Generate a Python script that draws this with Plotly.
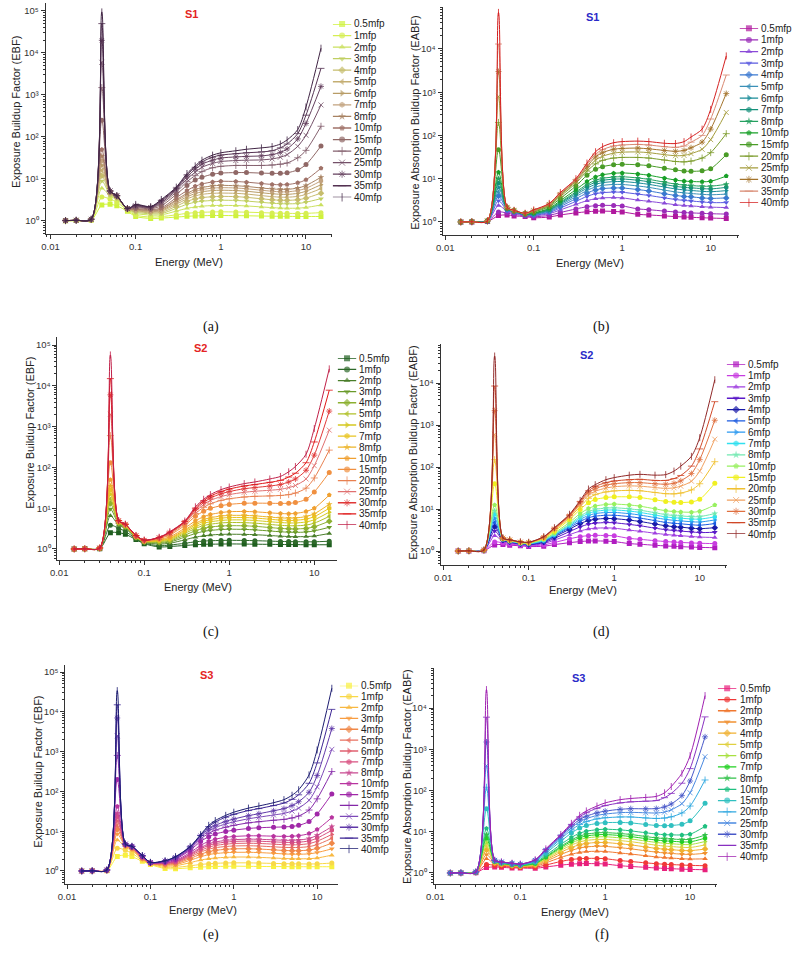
import plotly.graph_objects as go

W, H = 792, 961
FONT = "Liberation Sans, Arial, sans-serif"

energy = [0.015, 0.02, 0.03, 0.04, 0.05, 0.06, 0.08, 0.1, 0.15, 0.2, 0.3, 0.4, 0.5,
          0.6, 0.8, 1, 1.5, 2, 3, 4, 5, 6, 8, 10, 15]
mfp = ["0.5mfp", "1mfp", "2mfp", "3mfp", "4mfp", "5mfp", "6mfp", "7mfp", "8mfp",
       "10mfp", "15mfp", "20mfp", "25mfp", "30mfp", "35mfp", "40mfp"]
x_tickvals = [0.01, 0.1, 1, 10]
x_ticktext = ["0.01", "0.1", "1", "10"]
y_tickvals = [1, 10, 100, 1000, 10000, 100000]
y_ticktext = ["10\u2070", "10\u00b9", "10\u00b2", "10\u00b3", "10\u2074", "10\u2075"]

# (a) EBF, S1
EBF_S1 = [
    [1.01,1.02,1.04,2.4,2.5,2.3,1.7,1.28,1.15,1.17,1.24,1.29,1.32,1.33,1.35,1.35,1.34,1.33,1.31,1.30,1.29,1.29,1.28,1.28,1.28],
    [1.01,1.02,1.05,3.7,3.3,2.8,1.8,1.38,1.24,1.27,1.40,1.52,1.58,1.61,1.64,1.65,1.64,1.62,1.58,1.55,1.53,1.52,1.51,1.52,1.58],
    [1.02,1.03,1.06,6.0,3.9,3.3,1.85,1.52,1.38,1.40,1.72,2.0,2.15,2.25,2.33,2.35,2.33,2.28,2.16,2.08,2.03,2.01,2.02,2.1,2.4],
    [1.02,1.03,1.07,9.0,4.2,3.5,1.88,1.62,1.48,1.5,2.0,2.5,2.8,2.95,3.08,3.12,3.08,2.98,2.78,2.65,2.58,2.56,2.6,2.8,3.4],
    [1.02,1.03,1.07,12,4.4,3.6,1.9,1.7,1.56,1.6,2.25,2.95,3.35,3.6,3.78,3.85,3.8,3.65,3.38,3.2,3.12,3.1,3.2,3.5,4.6],
    [1.02,1.03,1.08,16,4.6,3.7,1.92,1.76,1.62,1.7,2.5,3.35,3.95,4.3,4.55,4.62,4.55,4.38,4.02,3.8,3.7,3.68,3.85,4.3,5.9],
    [1.02,1.04,1.08,21,4.7,3.8,1.93,1.82,1.68,1.78,2.75,3.75,4.5,4.95,5.3,5.4,5.3,5.1,4.7,4.45,4.32,4.3,4.55,5.1,7.3],
    [1.02,1.04,1.08,27,4.8,3.85,1.94,1.86,1.73,1.86,3.0,4.15,5.05,5.6,6.05,6.2,6.1,5.85,5.4,5.1,4.95,4.95,5.3,6.0,9.0],
    [1.02,1.04,1.09,35,4.9,3.9,1.95,1.9,1.78,1.93,3.2,4.55,5.6,6.25,6.85,7.05,6.9,6.65,6.1,5.8,5.65,5.65,6.1,7.0,11],
    [1.02,1.04,1.09,50,5.0,3.95,1.96,1.97,1.86,2.05,3.6,5.3,6.7,7.6,8.5,8.8,8.7,8.4,7.8,7.4,7.3,7.35,8.1,9.6,18],
    [1.02,1.04,1.1,250,5.1,4.0,1.97,2.08,1.96,2.3,4.3,7.0,9.4,11,13,13.8,14.2,14.2,13.8,13.6,13.6,14,16.5,22,61],
    [1.02,1.04,1.1,1500,5.15,4.0,1.98,2.17,2.03,2.55,4.9,8.6,12,15,18.5,20,21,21,21,21.5,22.5,24,32,48,180],
    [1.02,1.04,1.1,6000,5.2,4.0,1.98,2.25,2.08,2.75,5.4,10,14.5,19,23.5,26,27.5,28,28.5,30,33,38,60,110,580],
    [1.02,1.04,1.1,20000,5.2,4.0,1.98,2.32,2.13,2.95,5.8,11.3,17,22.5,28,31.5,33.5,34.5,35.5,38,43,52,90,210,1600],
    [1.02,1.04,1.1,50000,5.2,4.0,1.98,2.4,2.17,3.1,6.1,12.5,19,25.5,33,37,40,42,44,47,55,68,120,330,4300],
    [1.02,1.04,1.1,95000,5.2,4.0,1.98,2.48,2.2,3.25,6.4,13.5,20.5,28,37,42,47,51,55,59,68,85,150,520,13000],
]

# (b) EABF, S1
EABF_S1 = [
    [1.0,1.0,1.02,1.4,1.45,1.38,1.33,1.25,1.3,1.45,1.62,1.72,1.77,1.78,1.75,1.7,1.5,1.45,1.38,1.33,1.3,1.28,1.25,1.23,1.2],
    [1.0,1.01,1.03,1.7,1.6,1.5,1.38,1.32,1.42,1.65,2.0,2.25,2.38,2.42,2.4,2.35,2.0,1.92,1.78,1.7,1.65,1.62,1.58,1.55,1.52],
    [1.0,1.01,1.03,2.4,1.75,1.6,1.42,1.38,1.55,1.9,2.55,3.1,3.45,3.6,3.65,3.6,3.2,3.0,2.7,2.5,2.4,2.35,2.25,2.2,2.15],
    [1.0,1.01,1.04,3.1,1.85,1.66,1.45,1.42,1.65,2.1,3.0,3.9,4.5,4.75,4.9,4.85,4.4,4.1,3.6,3.3,3.15,3.05,2.9,2.8,2.8],
    [1.0,1.01,1.04,4.0,1.92,1.7,1.47,1.46,1.73,2.28,3.45,4.65,5.5,5.9,6.1,6.1,5.6,5.2,4.5,4.1,3.9,3.8,3.6,3.5,3.6],
    [1.0,1.01,1.04,5.0,1.97,1.73,1.49,1.5,1.8,2.45,3.85,5.35,6.45,7.0,7.35,7.35,6.8,6.3,5.45,4.95,4.7,4.55,4.35,4.25,4.4],
    [1.0,1.01,1.05,6.3,2.0,1.75,1.5,1.53,1.87,2.6,4.25,6.05,7.4,8.1,8.55,8.6,8.0,7.4,6.4,5.8,5.5,5.35,5.1,5.0,5.3],
    [1.0,1.01,1.05,8.0,2.03,1.77,1.51,1.56,1.93,2.75,4.6,6.7,8.3,9.15,9.75,9.85,9.2,8.5,7.35,6.65,6.3,6.15,5.9,5.8,6.3],
    [1.0,1.01,1.05,10,2.05,1.78,1.52,1.58,1.98,2.88,4.95,7.35,9.2,10.2,10.9,11.1,10.4,9.65,8.3,7.5,7.1,6.95,6.7,6.7,7.4],
    [1.0,1.01,1.05,14,2.08,1.8,1.53,1.62,2.07,3.1,5.6,8.6,11,12.3,13.3,13.6,12.9,12,10.3,9.3,8.8,8.6,8.5,8.7,11.5],
    [1.0,1.01,1.06,47,2.12,1.82,1.55,1.7,2.25,3.5,6.8,12,16.5,19,21,21.5,21,20,17.5,16,15,14.8,15.2,17,36],
    [1.0,1.01,1.06,200,2.15,1.83,1.56,1.76,2.38,3.9,7.9,15,22,26.5,30,31,31,30,27,25,24.5,25.5,30,40,110],
    [1.0,1.01,1.06,800,2.17,1.84,1.57,1.8,2.48,4.2,8.6,17,27,33,39,41,41.5,40,36,34,34.5,38,48,80,340],
    [1.0,1.01,1.06,3000,2.18,1.85,1.58,1.84,2.56,4.4,9.1,19,32,40,48,50,51,49,45,43,45,52,70,140,930],
    [1.0,1.01,1.06,13000,2.19,1.85,1.58,1.87,2.62,4.6,9.6,21,37,47,57,60,62,60,55,53,57,70,100,240,2500],
    [1.0,1.01,1.06,70000,2.2,1.86,1.59,1.9,2.68,4.8,10,23,42,55,68,72,74,72,66,65,72,92,140,400,6900],
]

# (c) EBF, S2
EBF_S2 = [
    [1.0,1.01,1.02,2.5,2.5,2.3,1.7,1.35,1.12,1.15,1.22,1.27,1.3,1.31,1.32,1.33,1.32,1.31,1.3,1.29,1.28,1.28,1.27,1.27,1.27],
    [1.0,1.01,1.03,3.8,3.2,2.7,1.78,1.4,1.2,1.25,1.38,1.5,1.56,1.59,1.62,1.63,1.62,1.6,1.56,1.53,1.52,1.51,1.5,1.5,1.55],
    [1.0,1.01,1.03,6.5,3.8,3.2,1.85,1.45,1.32,1.38,1.68,1.95,2.1,2.2,2.28,2.3,2.28,2.24,2.14,2.06,2.02,2.0,2.02,2.08,2.4],
    [1.0,1.01,1.04,9.5,4.1,3.4,1.9,1.48,1.4,1.48,1.95,2.4,2.7,2.85,3.0,3.05,3.02,2.94,2.76,2.64,2.58,2.56,2.6,2.78,3.4],
    [1.0,1.01,1.04,13,4.3,3.55,1.93,1.5,1.47,1.56,2.18,2.8,3.2,3.45,3.65,3.72,3.7,3.6,3.35,3.2,3.12,3.1,3.2,3.5,4.8],
    [1.0,1.01,1.04,17,4.45,3.65,1.96,1.52,1.53,1.64,2.4,3.2,3.75,4.05,4.35,4.45,4.42,4.3,4.0,3.8,3.72,3.7,3.85,4.3,6.3],
    [1.0,1.01,1.05,22,4.55,3.72,1.98,1.54,1.58,1.72,2.6,3.55,4.25,4.65,5.0,5.15,5.15,5.0,4.65,4.45,4.35,4.35,4.6,5.2,8.0],
    [1.0,1.01,1.05,28,4.62,3.78,2.0,1.55,1.62,1.79,2.78,3.9,4.75,5.25,5.7,5.9,5.9,5.75,5.35,5.1,5.0,5.05,5.4,6.2,10],
    [1.0,1.01,1.05,35,4.68,3.82,2.02,1.56,1.66,1.86,2.95,4.25,5.25,5.85,6.4,6.65,6.65,6.5,6.05,5.8,5.7,5.75,6.25,7.3,12.5],
    [1.0,1.01,1.05,50,4.75,3.88,2.05,1.58,1.72,1.98,3.25,4.9,6.2,7.0,7.8,8.2,8.3,8.15,7.7,7.4,7.3,7.45,8.3,10,21],
    [1.0,1.01,1.06,130,4.85,3.95,2.08,1.6,1.8,2.2,3.8,6.3,8.4,9.9,11.5,12.4,13.2,13.3,13.2,13.1,13.2,13.7,16.5,25,75],
    [1.0,1.01,1.06,600,4.9,4.0,2.1,1.62,1.85,2.35,4.2,7.4,10.5,12.8,15.5,17,18.8,19.5,20,20.5,21.5,23.5,31,55,265],
    [1.0,1.01,1.06,2000,4.92,4.02,2.12,1.63,1.88,2.45,4.45,8.4,12.2,15.5,19.2,21.5,24.5,26,27.5,29,32,36,52,110,820],
    [1.0,1.01,1.06,6000,4.94,4.04,2.13,1.64,1.9,2.53,4.6,9.2,13.8,17.8,22.5,25.5,30,32,35,38,44,52,85,200,2400],
    [1.0,1.01,1.06,15000,4.96,4.05,2.14,1.65,1.92,2.6,4.75,10,15.2,19.8,25.5,29.5,35,38,43,48,58,72,130,420,7800],
    [1.0,1.01,1.06,57000,4.98,4.06,2.15,1.66,1.94,2.65,4.85,10.8,16.5,21.5,28.5,33,40,44,52,60,78,105,210,900,26000],
]

# (d) EABF, S2
EABF_S2 = [
    [1.0,1.0,1.02,1.4,1.42,1.38,1.33,1.28,1.3,1.42,1.58,1.68,1.73,1.74,1.72,1.68,1.5,1.45,1.37,1.32,1.29,1.27,1.24,1.22,1.2],
    [1.0,1.01,1.03,1.65,1.55,1.47,1.38,1.33,1.4,1.6,1.95,2.2,2.32,2.36,2.34,2.3,2.0,1.9,1.76,1.68,1.63,1.6,1.56,1.53,1.5],
    [1.0,1.01,1.03,2.3,1.68,1.56,1.42,1.37,1.5,1.82,2.45,3.0,3.35,3.5,3.55,3.5,3.15,2.95,2.65,2.48,2.38,2.32,2.22,2.15,2.1],
    [1.0,1.01,1.04,3.0,1.76,1.62,1.45,1.4,1.58,2.0,2.9,3.75,4.35,4.6,4.75,4.7,4.3,4.0,3.5,3.22,3.08,2.98,2.85,2.75,2.8],
    [1.0,1.01,1.04,3.8,1.82,1.66,1.48,1.43,1.65,2.18,3.3,4.5,5.3,5.7,5.95,5.9,5.45,5.05,4.4,4.0,3.8,3.7,3.5,3.4,3.6],
    [1.0,1.01,1.04,4.8,1.86,1.69,1.5,1.46,1.7,2.3,3.6,5.05,6.2,6.75,7.1,7.1,6.6,6.1,5.3,4.8,4.58,4.45,4.22,4.12,4.5],
    [1.0,1.01,1.05,6.0,1.9,1.72,1.52,1.48,1.75,2.38,3.85,5.65,7.0,7.8,8.25,8.3,7.75,7.2,6.25,5.65,5.38,5.22,4.98,4.9,5.5],
    [1.0,1.01,1.05,7.5,1.93,1.74,1.54,1.5,1.8,2.48,4.1,6.2,7.85,8.8,9.4,9.5,8.95,8.3,7.2,6.5,6.2,6.05,5.8,5.75,6.5],
    [1.0,1.01,1.05,9.0,1.95,1.76,1.55,1.52,1.85,2.55,4.35,6.8,8.7,9.8,10.5,10.7,10.1,9.4,8.15,7.35,7.0,6.85,6.6,6.6,7.8],
    [1.0,1.01,1.05,12.5,1.97,1.78,1.57,1.54,1.92,2.7,4.8,7.8,10.3,11.8,12.8,13.1,12.5,11.7,10.1,9.1,8.7,8.5,8.4,8.8,12.5],
    [1.0,1.01,1.06,40,2.0,1.8,1.6,1.57,2.0,2.95,5.6,9.8,14.2,16.8,18.8,19.5,19.5,18.8,16.6,15.2,14.5,14.3,14.8,17,41],
    [1.0,1.01,1.06,150,2.02,1.82,1.62,1.58,2.06,3.15,6.2,11.5,18,22,25.5,27,27.8,27.2,24.8,23.2,23,24,28.5,40,134],
    [1.0,1.01,1.06,600,2.03,1.83,1.63,1.59,2.1,3.3,6.6,13,21.5,26.5,31.5,34,35.5,35,32.5,31,32,35,46,80,460],
    [1.0,1.01,1.06,2200,2.04,1.84,1.64,1.6,2.14,3.4,6.9,14,24.5,30.5,37,40,42.5,42.5,40,39,41,47,70,150,1300],
    [1.0,1.01,1.06,8500,2.05,1.85,1.65,1.61,2.17,3.5,7.2,15,27,34.5,42.5,46.5,50,51,48,48,53,63,105,270,3600],
    [1.0,1.01,1.06,44000,2.06,1.86,1.66,1.62,2.2,3.6,7.5,16,30,38,50,56,64,67,64,66,80,105,180,500,12000],
]

# (e) EBF, S3
EBF_S3 = [
    [1.0,1.01,1.02,2.3,2.5,2.3,1.75,1.45,1.15,1.14,1.2,1.25,1.28,1.3,1.31,1.32,1.31,1.3,1.29,1.29,1.28,1.28,1.28,1.28,1.28],
    [1.0,1.01,1.03,3.7,3.3,2.8,1.85,1.5,1.22,1.23,1.35,1.46,1.52,1.56,1.59,1.6,1.6,1.58,1.55,1.53,1.52,1.51,1.5,1.51,1.58],
    [1.0,1.01,1.03,6.0,3.9,3.3,1.95,1.53,1.32,1.35,1.62,1.88,2.03,2.12,2.2,2.24,2.24,2.2,2.12,2.06,2.03,2.02,2.04,2.12,2.5],
    [1.0,1.01,1.04,8.5,4.2,3.55,2.02,1.55,1.4,1.44,1.86,2.28,2.58,2.74,2.88,2.94,2.95,2.9,2.78,2.68,2.64,2.63,2.7,2.9,3.6],
    [1.0,1.01,1.04,11,4.35,3.7,2.08,1.56,1.46,1.52,2.06,2.64,3.05,3.3,3.5,3.6,3.62,3.56,3.4,3.28,3.24,3.24,3.36,3.7,5.0],
    [1.0,1.01,1.04,14,4.45,3.8,2.13,1.57,1.51,1.59,2.24,2.98,3.52,3.85,4.12,4.25,4.3,4.24,4.05,3.92,3.88,3.9,4.1,4.6,6.6],
    [1.0,1.01,1.05,18,4.52,3.88,2.17,1.58,1.55,1.65,2.4,3.3,3.95,4.38,4.72,4.9,4.98,4.92,4.72,4.58,4.54,4.58,4.88,5.6,8.3],
    [1.0,1.01,1.05,23,4.58,3.94,2.2,1.59,1.58,1.7,2.55,3.6,4.38,4.88,5.3,5.52,5.65,5.6,5.4,5.25,5.22,5.28,5.7,6.7,10.5],
    [1.0,1.01,1.05,28,4.62,3.98,2.23,1.6,1.6,1.75,2.68,3.88,4.78,5.36,5.86,6.12,6.3,6.26,6.06,5.92,5.9,6.0,6.55,7.9,13],
    [1.0,1.01,1.05,42,4.68,4.04,2.27,1.61,1.64,1.83,2.92,4.4,5.55,6.3,7.0,7.35,7.65,7.65,7.5,7.4,7.45,7.7,8.7,11,22],
    [1.0,1.01,1.06,200,4.72,4.1,2.33,1.62,1.7,1.97,3.35,5.5,7.3,8.5,9.8,10.6,11.7,12.2,12.6,12.8,13.2,14,17.5,27,86],
    [1.0,1.01,1.06,800,4.74,4.13,2.37,1.63,1.74,2.07,3.6,6.4,8.8,10.6,12.6,14,16.2,17.3,18.8,19.8,21.5,24,34,65,315],
    [1.0,1.01,1.06,2500,4.75,4.15,2.4,1.63,1.77,2.15,3.8,7.1,10.1,12.4,15.2,17.2,20.5,22.5,25.5,28,32,38,60,130,1140],
    [1.0,1.01,1.06,7000,4.76,4.16,2.42,1.64,1.79,2.21,3.95,7.7,11.2,14,17.6,20.2,24.6,27.5,32.5,37,44,55,95,250,3800],
    [1.0,1.01,1.06,15000,4.77,4.17,2.44,1.64,1.8,2.26,4.05,7.8,13,17,22.5,26.5,33,37,44,51,63,82,160,520,11500],
    [1.0,1.01,1.06,34000,4.78,4.18,2.45,1.65,1.81,2.3,4.15,8.2,14,18.5,25,30,38,43,52,62,80,110,260,1100,39000],
]

# (f) EABF, S3
EABF_S3 = [
    [1.0,1.0,1.02,1.35,1.4,1.37,1.33,1.32,1.3,1.4,1.55,1.64,1.68,1.69,1.68,1.65,1.5,1.44,1.37,1.32,1.29,1.27,1.24,1.22,1.2],
    [1.0,1.01,1.03,1.6,1.52,1.46,1.4,1.36,1.38,1.56,1.9,2.12,2.22,2.26,2.26,2.22,2.0,1.9,1.76,1.68,1.63,1.6,1.56,1.53,1.5],
    [1.0,1.01,1.03,2.2,1.64,1.55,1.45,1.4,1.46,1.76,2.38,2.85,3.15,3.3,3.36,3.32,3.05,2.88,2.62,2.45,2.36,2.3,2.22,2.18,2.2],
    [1.0,1.01,1.04,2.8,1.72,1.6,1.49,1.43,1.52,1.92,2.8,3.52,4.02,4.28,4.45,4.42,4.1,3.85,3.45,3.2,3.06,2.98,2.86,2.82,3.0],
    [1.0,1.01,1.04,3.6,1.78,1.64,1.52,1.46,1.58,2.06,3.18,4.15,4.85,5.22,5.48,5.48,5.1,4.8,4.28,3.95,3.78,3.68,3.52,3.48,3.8],
    [1.0,1.01,1.04,4.5,1.83,1.67,1.54,1.48,1.62,2.18,3.52,4.75,5.65,6.15,6.5,6.52,6.1,5.75,5.12,4.72,4.5,4.38,4.2,4.15,4.8],
    [1.0,1.01,1.05,5.5,1.87,1.7,1.56,1.5,1.66,2.3,3.85,5.32,6.42,7.05,7.5,7.55,7.1,6.7,5.95,5.5,5.25,5.12,4.92,4.88,5.8],
    [1.0,1.01,1.05,7.0,1.9,1.72,1.58,1.52,1.7,2.4,4.15,5.85,7.15,7.9,8.45,8.55,8.1,7.65,6.8,6.28,6.02,5.88,5.68,5.68,7.0],
    [1.0,1.01,1.05,8.5,1.92,1.74,1.6,1.54,1.73,2.5,4.42,6.35,7.85,8.72,9.38,9.52,9.05,8.58,7.65,7.08,6.8,6.66,6.48,6.55,8.3],
    [1.0,1.01,1.05,12,1.95,1.77,1.62,1.56,1.78,2.68,4.92,7.3,9.2,10.3,11.2,11.5,11.1,10.5,9.45,8.8,8.5,8.4,8.35,8.7,13.5],
    [1.0,1.01,1.06,36,1.99,1.8,1.66,1.59,1.88,3.0,5.9,9.3,12.3,14.1,15.9,16.6,16.8,16.4,15,14.2,14,14.2,15.2,18.5,49],
    [1.0,1.01,1.06,120,2.01,1.82,1.68,1.61,1.95,3.25,6.7,11,15,17.6,20.5,21.8,22.8,22.8,21.6,21,21.5,23,28.5,42,180],
    [1.0,1.01,1.06,400,2.02,1.83,1.7,1.62,2.0,3.45,7.3,12.5,17.5,20.8,24.8,26.8,29,29.5,28.8,28.5,30,34,48,88,660],
    [1.0,1.01,1.06,1500,2.03,1.84,1.71,1.63,2.04,3.6,7.8,13.8,19.7,23.8,28.8,31.6,35,36.2,36,36.5,40,47,75,170,2000],
    [1.0,1.01,1.06,6000,2.04,1.85,1.72,1.64,2.07,3.72,8.2,15,23,29,37,43,50,53,55,57,67,85,150,340,6100],
    [1.0,1.01,1.06,28000,2.05,1.86,1.73,1.65,2.1,3.85,8.6,16,25,32,42,50,60,64,68,72,88,125,260,700,20000],
]

COL_A = ["#cff23c","#d6ee52","#cae05e","#c0cf62","#c6bd6c","#c4ae72","#b89c66","#c2a27e","#a88262","#a07268",
         "#906866","#84606e","#745068","#64405e","#543252","#402444"]
COL_B = ["#b0189e","#9a2cb8","#8a4ad8","#5a5ae0","#3a78d0","#3a90b8","#1a8c98","#14907a","#24a060","#18a028",
         "#4a9c28","#7c9c2c","#a49c3c","#a4742c","#d88870","#d42020"]
COL_C = ["#1e5e1e","#2e6a2a","#4a7e2a","#6a9a2a","#8cb030","#b0c028","#d4c820","#e8c420","#ecb428","#f0a030",
         "#f09040","#e88050","#e07070","#e03838","#e01818","#c02048"]
COL_D = ["#b01cc0","#c83ce0","#a040e0","#5a18c8","#1a1aa8","#1a5ae0","#2a98f0","#30e0f0","#70e8b0","#98f060",
         "#f0f020","#f0c030","#f0a060","#e07040","#d04828","#902828"]
COL_E = ["#f8f040","#f8d848","#f8b840","#f89c40","#f08848","#e87060","#e06070","#d85080","#c84890","#b834a0",
         "#a028a8","#8428a8","#7c48b8","#6038a8","#3c2494","#1c1c70"]
COL_F = ["#e8207c","#f03838","#f07830","#f09030","#f0b030","#e0d040","#a8e040","#20d020","#30c048","#20c080",
         "#30c0c0","#30a8e0","#4888e0","#4858c8","#8830c0","#a020b0"]

symbols = ["square", "circle", "triangle-up", "triangle-down", "diamond", "triangle-left",
           "triangle-right", "hexagon", "star", "pentagon", "circle", "cross-thin", "x-thin",
           "asterisk", "line-ew", "line-ns"]
thin = {"cross-thin", "x-thin", "asterisk", "line-ew", "line-ns"}

RED = "#e42424"
BLUE = "#2a2ac8"
EBF_T = "Exposure Buildup Factor (EBF)"
EABF_T = "Exposure Absorption Buildup Factor (EABF)"

panels = [
    dict(data=EBF_S1, col=COL_A, title="S1", tcol=RED, ytitle=EBF_T, cap="(a)",
         px=(38, 327), xr=(-2.058, 1.302), py=(3, 234), yr=(-0.31, 5.19), ymax=5,
         leg=(328, 24, 197.3), yt=(8, 112), xt=(183, 262), tt=(185, 14), cp=(205, 327)),
    dict(data=EABF_S1, col=COL_B, title="S1", tcol=BLUE, ytitle=EABF_T, cap="(b)",
         px=(439, 738), xr=(-2.03, 1.315), py=(7, 235), yr=(-0.302, 4.97), ymax=4,
         leg=(739, 28.3, 202.7), yt=(411, 122), xt=(588, 263), tt=(590, 17), cp=(600, 327)),
    dict(data=EBF_S2, col=COL_C, title="S2", tcol=RED, ytitle=EBF_T, cap="(c)",
         px=(50, 332), xr=(-2.02, 1.263), py=(337, 560), yr=(-0.27, 5.196), ymax=5,
         leg=(333, 358.3, 525), yt=(22, 433), xt=(192, 587), tt=(194, 348), cp=(205, 632)),
    dict(data=EABF_S2, col=COL_D, title="S2", tcol=BLUE, ytitle=EABF_T, cap="(d)",
         px=(437, 726), xr=(-2.03, 1.315), py=(344, 565), yr=(-0.333, 4.93), ymax=4,
         leg=(726, 364.3, 534), yt=(409, 452), xt=(581, 590), tt=(584, 355), cp=(600, 632)),
    dict(data=EBF_S3, col=COL_E, title="S3", tcol=RED, ytitle=EBF_T, cap="(e)",
         px=(58, 333), xr=(-2.02, 1.246), py=(665, 884), yr=(-0.327, 5.176), ymax=5,
         leg=(335, 685.7, 849), yt=(30, 772), xt=(197, 910), tt=(201, 675), cp=(205, 935)),
    dict(data=EABF_S3, col=COL_F, title="S3", tcol=BLUE, ytitle=EABF_T, cap="(f)",
         px=(430, 716), xr=(-2.02, 1.314), py=(668, 884), yr=(-0.267, 4.97), ymax=4,
         leg=(717, 688.3, 856.7), yt=(403, 776), xt=(573, 912), tt=(576, 678), cp=(600, 935)),
]

minor_x = [m * 10.0 ** e for e in range(-3, 2) for m in range(2, 10)]
minor_y = [m * 10.0 ** e for e in range(-1, 6) for m in range(2, 10)]

fig = go.Figure()
layout = dict(width=W, height=H, margin=dict(l=0, r=0, t=0, b=0),
              paper_bgcolor="white", plot_bgcolor="white", showlegend=False,
              font=dict(family=FONT, color="#222"))
annotations = []


def fx(px):
    return px / W


def fy(py):
    return 1 - py / H


for i, p in enumerate(panels):
    n = i + 1
    xr_ = "x" if n == 1 else f"x{n}"
    yr_ = "y" if n == 1 else f"y{n}"
    for k in range(16):
        c = p["col"][k]
        sym = symbols[k]
        is_thin = sym in thin
        fig.add_trace(go.Scatter(
            x=energy, y=p["data"][k], mode="lines+markers", xaxis=xr_, yaxis=yr_,
            line=dict(color=c, width=1, shape="spline", smoothing=0.8),
            marker=dict(symbol=sym, size=5, color=c,
                        line=dict(color=c, width=0.8 if is_thin else 0)),
            showlegend=False, hoverinfo="skip"))
    x0, x1 = p["px"]
    yt0, yb0 = p["py"]
    axcommon = dict(showline=True, linecolor="#333", linewidth=1, ticks="outside",
                    ticklen=4, tickwidth=1, tickcolor="#333", showgrid=False, zeroline=False,
                    tickfont=dict(size=9.5, family=FONT, color="#333"))
    layout["xaxis" if n == 1 else f"xaxis{n}"] = dict(
        domain=[fx(x0), fx(x1)], type="log", range=list(p["xr"]), anchor=yr_,
        tickmode="array", tickvals=x_tickvals, ticktext=x_ticktext,
        minor=dict(ticks="outside", ticklen=2, tickcolor="#333", tickmode="array",
                   tickvals=minor_x, showgrid=False),
        **axcommon)
    ny = p["ymax"] + 1
    layout["yaxis" if n == 1 else f"yaxis{n}"] = dict(
        domain=[fy(yb0), fy(yt0)], type="log", range=list(p["yr"]), anchor=xr_,
        tickmode="array", tickvals=y_tickvals[:ny], ticktext=y_ticktext[:ny],
        minor=dict(ticks="outside", ticklen=2, tickcolor="#333", tickmode="array",
                   tickvals=minor_y, showgrid=False),
        **axcommon)

    # legend drawn on its own hidden axes
    m = n + 6
    lx, ly0, ly1 = p["leg"]
    for k in range(16):
        c = p["col"][k]
        sym = symbols[k]
        is_thin = sym in thin
        fig.add_trace(go.Scatter(
            x=[0, 0.5, 1], y=[k, k, k], mode="lines+markers",
            xaxis=f"x{m}", yaxis=f"y{m}",
            line=dict(color=c, width=1.3),
            marker=dict(symbol=sym, size=[0, 6, 0], color=c,
                        line=dict(color=c, width=1 if is_thin else 0)),
            cliponaxis=False, showlegend=False, hoverinfo="skip"))
        annotations.append(dict(text=mfp[k], x=1, y=k, xref=f"x{m}", yref=f"y{m}",
                                xanchor="left", yanchor="middle", xshift=1, showarrow=False,
                                font=dict(size=10, family=FONT, color="#222")))
    layout[f"xaxis{m}"] = dict(domain=[fx(lx), fx(lx + 19)], range=[0, 1], visible=False,
                               anchor=f"y{m}", fixedrange=True)
    layout[f"yaxis{m}"] = dict(domain=[fy(ly1), fy(ly0)], range=[15, 0], visible=False,
                               anchor=f"x{m}", fixedrange=True)

    annotations.append(dict(text=p["ytitle"], x=fx(p["yt"][0]), y=fy(p["yt"][1]),
                            xref="paper", yref="paper", textangle=-90, showarrow=False,
                            xanchor="center", yanchor="middle",
                            font=dict(size=11, family=FONT, color="#222")))
    annotations.append(dict(text="Energy (MeV)", x=fx(p["xt"][0]), y=fy(p["xt"][1]),
                            xref="paper", yref="paper", showarrow=False,
                            xanchor="center", yanchor="middle",
                            font=dict(size=11, family=FONT, color="#222")))
    annotations.append(dict(text=f"<b>{p['title']}</b>", x=fx(p["tt"][0]), y=fy(p["tt"][1]),
                            xref="paper", yref="paper", showarrow=False,
                            xanchor="center", yanchor="middle",
                            font=dict(size=11, family=FONT, color=p["tcol"])))
    annotations.append(dict(text=p["cap"], x=fx(p["cp"][0]), y=fy(p["cp"][1]),
                            xref="paper", yref="paper", showarrow=False,
                            xanchor="center", yanchor="middle",
                            font=dict(size=14, family="Liberation Serif, Times New Roman, serif",
                                      color="#111")))

layout["annotations"] = annotations
fig.update_layout(**layout)
fig.write_html("out.html", config={"displayModeBar": False},
               post_script="document.body.style.margin='0';")
